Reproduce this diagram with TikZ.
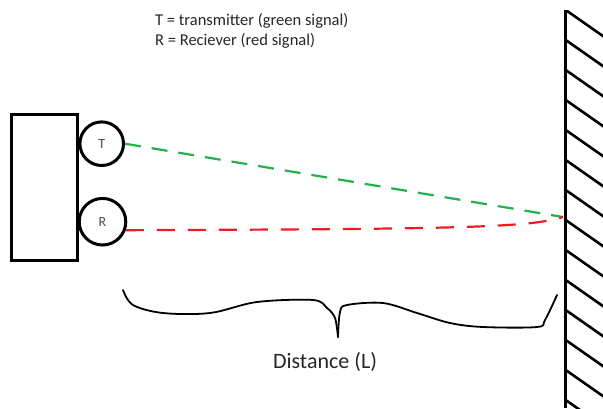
\documentclass[tikz,border=0pt]{standalone}
\usepackage{fontspec}
\setmainfont{Carlito}
\usepackage{tikz}
\usetikzlibrary{positioning}
\usepackage{xcolor}
\definecolor{sigGreen}{RGB}{34,177,76}
\definecolor{sigRed}{RGB}{237,28,36}

\begin{document}
\begin{tikzpicture}[
  x=1pt, y=-1pt,
  device/.style={draw, line width=3pt, minimum width=66pt, minimum height=146pt, inner sep=0pt},
  sensor/.style={draw, circle, line width=3pt, inner sep=0pt, font=\fontsize{14}{14}\selectfont, text=black!70},
  legend/.style={font=\fontsize{16.5}{20}\selectfont, text=black!85, inner sep=0pt, anchor=base west},
  signal/.style={line width=2.2pt, dash pattern=on 16pt off 11pt},
  greensig/.style={signal, sigGreen},
  redsig/.style={signal, sigRed, dash pattern=on 18pt off 13pt},
  wallline/.style={line width=3pt},
  hatch/.style={line width=2.6pt},
  brace/.style={line width=1.8pt, line join=round, line cap=round}
]
\useasboundingbox (0,0) rectangle (603,408);

% legend
\node[legend] (legendT) at (155,25) {T = transmitter (green signal)};
\node[legend] (legendR) at ([yshift=-20pt]legendT.base west) {R = Reciever (red signal)};

% device with transmitter and receiver
\node[device] (box) at (44.5,187.5) {};
\node[sensor, minimum size=43.6pt] (T) at (101.7,143.7) {T};
\node[sensor, minimum size=46.6pt] (R) at (102.5,221.7) {R};

% wall
\coordinate (walltop) at (565.7,10);
\coordinate (wallbot) at (565.7,408);
\coordinate (hit) at (563,217);
\draw[wallline] (walltop) -- (wallbot);
\begin{scope}
  \clip (walltop) rectangle (603,408);
  \foreach \y in {10,40,...,400}
    \draw[hatch] (565.7,\y) -- ++(40,28);
\end{scope}

% signals
\draw[greensig] (T.east) -- (hit);
\draw[redsig] (R.-20) .. controls (450,229) and (530,228) .. (hit);

% distance brace
\draw[brace] plot[smooth, tension=0.55] coordinates {(123,290) (133,305) (163,313) (210,313)
  (257,302) (313,300) (327,308) (335,318) (338,337)};
\draw[brace] plot[smooth, tension=0.55] coordinates {(338,337) (340,312) (347,305) (383,303)
  (417,313) (450,323) (483,327) (537,327) (545,320) (557,295)};
\node[font=\fontsize{22}{22}\selectfont, text=black!85, inner sep=0pt] (dist) at (325,362) {Distance (L)};
\end{tikzpicture}
\end{document}
